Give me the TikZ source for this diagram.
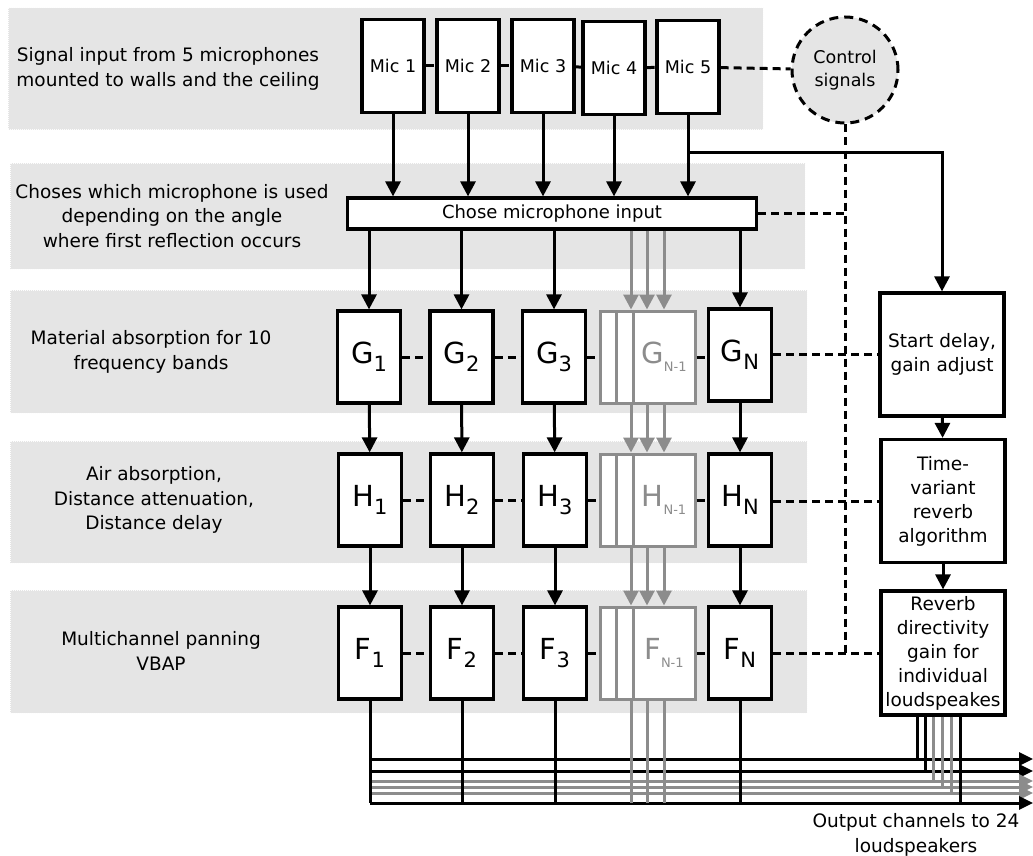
\documentclass[tikz,border=0pt]{standalone}
\usepackage{fontspec}
\setmainfont{DejaVu Sans}
\usepackage{tikz}
\usetikzlibrary{positioning,arrows.meta}
\definecolor{bandgrey}{RGB}{229,229,229}
\definecolor{ghostgrey}{RGB}{140,140,140}
\newcommand{\blocklabel}[2]{{\fontsize{29}{29}\selectfont #1}\raisebox{-8pt}{\fontsize{21}{21}\selectfont #2}}
\newcommand{\ghostlabel}[1]{{\fontsize{29}{29}\selectfont #1}\raisebox{-8pt}{\fontsize{13}{13}\selectfont N-1}}
\tikzset{
    band/.style={
        fill=bandgrey,
        draw=white!92!bandgrey,
        densely dotted,
        line width=1pt
    },
    rowlabel/.style={
        align=center,
        font=\fontsize{18.5}{24.5}\selectfont
    },
    micbox/.style={
        draw,
        fill=white,
        line width=3.2pt,
        minimum width=62pt,
        minimum height=93pt,
        inner sep=0pt,
        font=\fontsize{17.5}{20}\selectfont
    },
    selectbox/.style={
        draw,
        fill=white,
        line width=3.2pt,
        minimum width=409pt,
        minimum height=31pt,
        inner sep=0pt,
        font=\fontsize{18}{20}\selectfont
    },
    ctrlnode/.style={
        circle,
        draw,
        fill=bandgrey,
        line width=3pt,
        dash pattern=on 9pt off 6pt,
        minimum size=106pt,
        inner sep=0pt,
        align=center,
        font=\fontsize{17.5}{23}\selectfont
    },
    blockbox/.style={
        draw,
        fill=white,
        line width=3.2pt,
        minimum width=63pt,
        minimum height=92pt,
        inner sep=0pt
    },
    ghostbox/.style={
        draw=ghostgrey,
        fill=white,
        line width=3pt,
        minimum width=62pt,
        minimum height=92pt,
        inner sep=0pt
    },
    procbox/.style={
        draw,
        fill=white,
        line width=3.2pt,
        minimum width=124pt,
        minimum height=123pt,
        text width=120pt,
        inner sep=0pt,
        align=center,
        font=\fontsize{18.5}{24}\selectfont
    },
    sig/.style={-{Triangle[length=15pt,width=15pt]}, line width=3pt},
    ghostsig/.style={-{Triangle[length=15pt,width=15pt]}, line width=3pt, draw=ghostgrey, fill=ghostgrey},
    wire/.style={line width=3pt},
    ghostwire/.style={line width=3pt, draw=ghostgrey},
    bussig/.style={-{Triangle[length=14pt,width=13pt]}, line width=3pt},
    ghostbus/.style={-{Triangle[length=14pt,width=13pt]}, line width=3pt, draw=ghostgrey, fill=ghostgrey},
    ctrl/.style={line width=3pt, dash pattern=on 8pt off 5pt}
}

\begin{document}
\begin{tikzpicture}[x=1pt, y=-1pt]

\useasboundingbox (0,0) rectangle (1033,856);

% BACKGROUND BANDS
\draw[band] (8,8) rectangle (763,130);
\draw[band] (10,163) rectangle (805,269);
\draw[band] (10,290) rectangle (807,413);
\draw[band] (10,441) rectangle (807,563);
\draw[band] (10,590) rectangle (807,713);

% ROW LABELS
\node[rowlabel] (inlabel) at (168,69)
{Signal input from 5 microphones\\mounted to walls and the ceiling};

\node[rowlabel] (sellabel) at (172,216)
{Choses which microphone is used\\depending on the angle\\where first reflection occurs};

\node[rowlabel] (matlabel) at (151,352)
{Material absorption for 10\\frequency bands};

\node[rowlabel] (airlabel) at (154,500)
{Air absorption,\\Distance attenuation,\\Distance delay};

\node[rowlabel] (panlabel) at (161,651)
{Multichannel panning\\VBAP};

% MICROPHONES
\node[micbox] (mic1) at (393,66) {Mic 1};
\node[micbox] (mic2) at (468,66) {Mic 2};
\node[micbox] (mic3) at (543,66) {Mic 3};
\node[micbox] (mic4) at (614,68) {Mic 4};
\node[micbox] (mic5) at (688,67) {Mic 5};

\node[ctrlnode] (ctrl) at (845,70) {Control\\signals};

\draw[ctrl] (mic1) -- (mic2);
\draw[ctrl] (mic2) -- (mic3);
\draw[ctrl] (mic3) -- (mic4);
\draw[ctrl] (mic4) -- (mic5);
\draw[ctrl] (mic5) -- (ctrl);

% MICROPHONE SELECTION
\node[selectbox] (chose) at (552,213.5) {Chose microphone input};

\draw[sig] (mic1) -- (mic1 |- chose.north);
\draw[sig] (mic2) -- (mic2 |- chose.north);
\draw[sig] (mic3) -- (mic3 |- chose.north);
\draw[sig] (mic4) -- (mic4 |- chose.north);
\draw[sig] (mic5) -- (mic5 |- chose.north);

% REVERB CHAIN
\node[procbox] (delay) at (942,354.5) {Start delay,\\gain adjust};
\node[procbox] (tvar) at (943,501) {Time-\\variant\\reverb\\algorithm};
\node[procbox, minimum height=124pt] (dirgain) at (943,653)
{Reverb\\directivity\\gain for\\individual\\loudspeakes};

\coordinate (split) at (688,152);
\draw[sig] (split) -| (delay);
\draw[sig] (delay) -- (tvar);
\draw[sig] (tvar) -- (dirgain);

% MATERIAL ABSORPTION
\node[blockbox] (g1) at (369,357) {\blocklabel{G}{1}};
\node[blockbox] (g2) at (461.5,357) {\blocklabel{G}{2}};
\node[blockbox] (g3) at (554,357) {\blocklabel{G}{3}};
\node[ghostbox] (gback) at (631,357) {};
\node[ghostbox] (gmid) at (647,357) {};
\node[ghostbox, text=ghostgrey] (gfront) at (664,357) {\ghostlabel{G}};
\node[blockbox] (gn) at (740,355) {\blocklabel{G}{N}};

% AIR ABSORPTION
\node[blockbox] (h1) at (370,500) {\blocklabel{H}{1}};
\node[blockbox] (h2) at (462,500) {\blocklabel{H}{2}};
\node[blockbox] (h3) at (555,500) {\blocklabel{H}{3}};
\node[ghostbox] (hback) at (631,500) {};
\node[ghostbox] (hmid) at (647,500) {};
\node[ghostbox, text=ghostgrey] (hfront) at (664,500) {\ghostlabel{H}};
\node[blockbox] (hn) at (740,500) {\blocklabel{H}{N}};

% PANNING
\node[blockbox] (f1) at (370,653) {\blocklabel{F}{1}};
\node[blockbox] (f2) at (462,653) {\blocklabel{F}{2}};
\node[blockbox] (f3) at (555,653) {\blocklabel{F}{3}};
\node[ghostbox] (fback) at (631,653) {};
\node[ghostbox] (fmid) at (647,653) {};
\node[ghostbox, text=ghostgrey] (ffront) at (664,653) {\ghostlabel{F}};
\node[blockbox] (fn) at (740,653) {\blocklabel{F}{N}};

% DASHED LINKS
\draw[ctrl] (g1) -- (g2);
\draw[ctrl] (g2) -- (g3);
\draw[ctrl] (g3) -- (gback);
\draw[ctrl] (gfront.east) -- (gfront.east -| gn.west);
\draw[ctrl] (h1) -- (h2);
\draw[ctrl] (h2) -- (h3);
\draw[ctrl] (h3) -- (hback);
\draw[ctrl] (hfront) -- (hn);
\draw[ctrl] (f1) -- (f2);
\draw[ctrl] (f2) -- (f3);
\draw[ctrl] (f3) -- (fback);
\draw[ctrl] (ffront) -- (fn);

\draw[ctrl] (ctrl) -- (ctrl |- fn);
\draw[ctrl] (chose) -- (chose -| ctrl);
\draw[ctrl] (gn.east |- delay) -- (delay);
\draw[ctrl] (hn.east |- tvar) -- (tvar);
\draw[ctrl] (fn) -- (dirgain);

% SIGNAL FLOW
\draw[sig] (chose.south -| g1) -- (g1);
\draw[sig] (chose.south -| g2) -- (g2);
\draw[sig] (chose.south -| g3) -- (g3);
\draw[sig] (chose.south -| gn) -- (gn);
\draw[ghostsig] (chose.south -| gback) -- (gback);
\draw[ghostsig] (chose.south -| gmid) -- (gmid.north);
\draw[ghostsig] (chose.south -| gfront) -- (gfront);

\draw[sig] (g1) -- (h1);
\draw[sig] (g2) -- (h2);
\draw[sig] (g3) -- (h3);
\draw[sig] (gn) -- (hn);
\draw[ghostsig] (gback) -- (hback);
\draw[ghostsig] (gmid.south) -- (hmid.north);
\draw[ghostsig] (gfront) -- (hfront);

\draw[sig] (h1) -- (f1);
\draw[sig] (h2) -- (f2);
\draw[sig] (h3) -- (f3);
\draw[sig] (hn) -- (fn);
\draw[ghostsig] (hback) -- (fback);
\draw[ghostsig] (hmid.south) -- (fmid.north);
\draw[ghostsig] (hfront) -- (ffront);

% OUTPUT BUS
\coordinate (out1) at (1033,759);
\coordinate (out2) at (1033,771);
\coordinate (out3) at (1033,781);
\coordinate (out4) at (1033,787);
\coordinate (out5) at (1033,793);
\coordinate (out6) at (1033,803);

\draw[bussig] (f1.south |- out1) -- (out1);
\draw[bussig] (f1.south |- out2) -- (out2);
\draw[ghostbus] (f1.south |- out3) -- (out3);
\draw[ghostbus] (f1.south |- out4) -- (out4);
\draw[ghostbus] (f1.south |- out5) -- (out5);
\draw[bussig] (f1.south |- out6) -- (out6);

\draw[wire] (f1) -- (f1 |- out6);
\draw[wire] (f2) -- (f2 |- out6);
\draw[wire] (f3) -- (f3 |- out6);
\draw[wire] (fn) -- (fn |- out6);
\draw[ghostwire] (fback) -- (fback |- out6);
\draw[ghostwire] (fmid.south) -- (fmid.south |- out6);
\draw[ghostwire] (ffront) -- (ffront |- out6);

\draw[wire] ([xshift=-26pt]dirgain.south) -- ([xshift=-26pt]dirgain.south |- out1);
\draw[wire] ([xshift=-18pt]dirgain.south) -- ([xshift=-18pt]dirgain.south |- out2);
\draw[ghostwire] ([xshift=-10pt]dirgain.south) -- ([xshift=-10pt]dirgain.south |- out3);
\draw[ghostwire] ([xshift=-1pt]dirgain.south) -- ([xshift=-1pt]dirgain.south |- out4);
\draw[ghostwire] ([xshift=8pt]dirgain.south) -- ([xshift=8pt]dirgain.south |- out5);
\draw[wire] ([xshift=17pt]dirgain.south) -- ([xshift=17pt]dirgain.south |- out6);

\node[rowlabel] (outlabel) at (916,835)
{Output channels to 24\\loudspeakers};

\end{tikzpicture}
\end{document}
